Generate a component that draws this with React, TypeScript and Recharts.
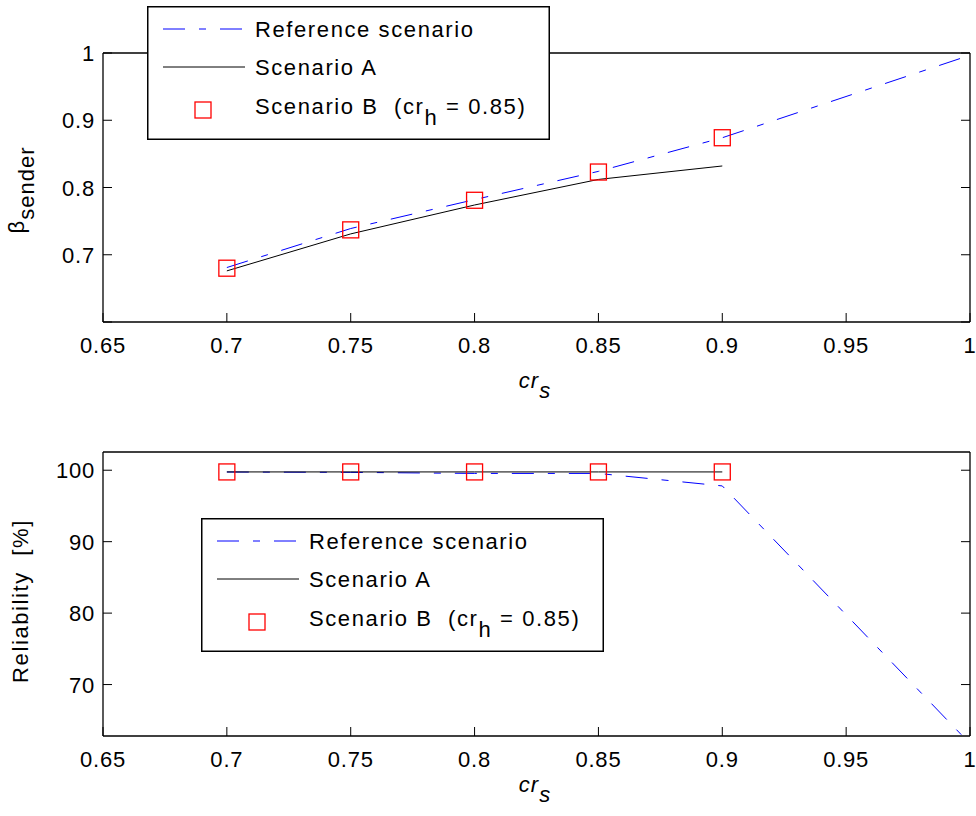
import React from 'react';
import { ComposedChart, Line, Scatter, XAxis, YAxis, Legend } from 'recharts';

const FONT = '"Liberation Sans", Arial, Helvetica, sans-serif';
const FS = 22;
const TICK_FS = 22;
const LS = 1.6;
const TICK_LS = 0.8;

// ---------- data ----------
const crS = [0.7, 0.75, 0.8, 0.85, 0.9];
const crSRef = [0.7, 0.75, 0.8, 0.85, 0.9, 0.997];

const betaRef = [0.681, 0.739, 0.782, 0.824, 0.874, 0.993];
const betaA = [0.676, 0.731, 0.774, 0.812, 0.832];
const betaB = [0.68, 0.737, 0.781, 0.823, 0.874];

const relRef = [99.75, 99.7, 99.55, 99.55, 97.8, 62.8];
const relA = [99.76, 99.76, 99.76, 99.76, 99.76];
const relB = [99.76, 99.76, 99.76, 99.76, 99.76];

const xTicks = [0.65, 0.7, 0.75, 0.8, 0.85, 0.9, 0.95, 1];
const xTickLabels = ['0.65', '0.7', '0.75', '0.8', '0.85', '0.9', '0.95', '1'];
const betaTicks = [0.6, 0.7, 0.8, 0.9, 1];
const betaTickLabels = ['', '0.7', '0.8', '0.9', '1'];
const relTicks = [70, 80, 90, 100];
const relTickLabels = ['70', '80', '90', '100'];

const legendLabels = ['Reference scenario', 'Scenario A', 'Scenario B  (cr', 'h', ' = 0.85)'];

const pts = (xs: number[], ys: number[]) => xs.map((x, i) => ({ x, y: ys[i] }));

const REF_COLOR = '#0000ff';
const A_COLOR = '#000000';
const B_COLOR = '#ff0000';
const DASH = '22 14 7 14';
const TICK_LEN = 9;
const AXIS_W = 1.3;

const labelOf = (vals: number[], labs: string[], v: number) => {
  const i = vals.findIndex((t) => Math.abs(t - v) < 1e-9);
  return i >= 0 ? labs[i] : String(v);
};

const makeBottomTick = (vals: number[], labs: string[]) => (props: any) => {
  const { x, y, payload } = props;
  return (
    <g>
      <line x1={x} x2={x} y1={y} y2={y - TICK_LEN} stroke="#000" strokeWidth={1} />
      <text
        x={x}
        y={y + 31}
        textAnchor="middle"
        fontFamily={FONT}
        fontSize={TICK_FS}
        letterSpacing={TICK_LS}
        fill="#000"
      >
        {labelOf(vals, labs, payload.value)}
      </text>
    </g>
  );
};

const TopTick = (props: any) => {
  const { x, y } = props;
  return <line x1={x} x2={x} y1={y} y2={y + TICK_LEN} stroke="#000" strokeWidth={1} />;
};

const makeLeftTick = (vals: number[], labs: string[]) => (props: any) => {
  const { x, y, payload } = props;
  return (
    <g>
      <line x1={x} x2={x + TICK_LEN} y1={y} y2={y} stroke="#000" strokeWidth={1} />
      <text
        x={x - 8}
        y={y + 8}
        textAnchor="end"
        fontFamily={FONT}
        fontSize={TICK_FS}
        letterSpacing={TICK_LS}
        fill="#000"
      >
        {labelOf(vals, labs, payload.value)}
      </text>
    </g>
  );
};

const RightTick = (props: any) => {
  const { x, y } = props;
  return <line x1={x} x2={x - TICK_LEN} y1={y} y2={y} stroke="#000" strokeWidth={1} />;
};

const SquareShape = (props: any) => {
  const { cx, cy } = props;
  return <rect x={cx - 8} y={cy - 8} width={16} height={16} fill="none" stroke={B_COLOR} strokeWidth={1.3} />;
};

const LegendBox = () => (
  <svg width={403} height={134} style={{ display: 'block' }}>
    <rect x={0.75} y={0.75} width={401.5} height={132.5} fill="#fff" stroke="#000" strokeWidth={1.5} />
    <line x1={16} x2={98} y1={23} y2={23} stroke={REF_COLOR} strokeWidth={1} strokeDasharray={DASH} />
    <text x={108} y={31} fontFamily={FONT} fontSize={FS} letterSpacing={LS} fill="#000">
      {legendLabels[0]}
    </text>
    <line x1={16} x2={98} y1={61} y2={61} stroke={A_COLOR} strokeWidth={1} />
    <text x={108} y={69} fontFamily={FONT} fontSize={FS} letterSpacing={LS} fill="#000">
      {legendLabels[1]}
    </text>
    <rect x={48} y={96} width={16} height={16} fill="none" stroke={B_COLOR} strokeWidth={1.3} />
    <text
      x={108}
      y={108}
      fontFamily={FONT}
      fontSize={FS}
      letterSpacing={LS}
      fill="#000"
      style={{ whiteSpace: 'pre' }}
    >
      {legendLabels[2]}
      <tspan dy={11}>{legendLabels[3]}</tspan>
      <tspan dy={-11}>{legendLabels[4]}</tspan>
    </text>
  </svg>
);

const XLabel = (y: number) => () => (
  <text
    x={535}
    y={y}
    textAnchor="middle"
    fontFamily={FONT}
    fontSize={FS}
    letterSpacing={1}
    fontStyle="italic"
    fill="#000"
  >
    cr<tspan dy={10}>s</tspan>
  </text>
);

const axisLine = { stroke: '#000', strokeWidth: AXIS_W };

export default function App() {
  const refTop = pts(crSRef, betaRef);
  const aTop = pts(crS, betaA);
  const bTop = pts(crS, betaB);
  const refBot = pts(crSRef, relRef);
  const aBot = pts(crS, relA);
  const bBot = pts(crS, relB);

  return (
    <div style={{ position: 'absolute', left: 0, top: 0, width: 976, height: 816, background: '#fff' }}>
      {/* top chart */}
      <div style={{ position: 'absolute', left: 0, top: 0 }}>
        <ComposedChart width={976} height={410} margin={{ left: 43, right: 5, top: 52, bottom: 28 }}>
          <XAxis
            dataKey="x"
            type="number"
            domain={[0.65, 1]}
            ticks={xTicks}
            allowDataOverflow
            height={60}
            tickSize={0}
            tickMargin={0}
            tickLine={false}
            axisLine={axisLine}
            tick={makeBottomTick(xTicks, xTickLabels)}
            label={{ content: XLabel(388) }}
          />
          <XAxis
            xAxisId="top"
            orientation="top"
            type="number"
            domain={[0.65, 1]}
            ticks={xTicks}
            allowDataOverflow
            height={1}
            tickSize={0}
            tickMargin={0}
            tickLine={false}
            axisLine={axisLine}
            tick={TopTick}
          />
          <YAxis
            dataKey="y"
            type="number"
            domain={[0.6, 1]}
            ticks={betaTicks}
            allowDataOverflow
            width={60}
            tickSize={0}
            tickMargin={0}
            tickLine={false}
            axisLine={axisLine}
            tick={makeLeftTick(betaTicks, betaTickLabels)}
            label={{
              content: () => (
                <text
                  x={24}
                  y={190}
                  transform="rotate(-90 24 190)"
                  textAnchor="middle"
                  fontFamily={FONT}
                  fontSize={FS}
                  letterSpacing={1}
                  fill="#000"
                >
                  β<tspan dy={10}>sender</tspan>
                </text>
              ),
            }}
          />
          <YAxis
            yAxisId="right"
            orientation="right"
            type="number"
            domain={[0.6, 1]}
            ticks={betaTicks}
            allowDataOverflow
            width={1}
            tickSize={0}
            tickMargin={0}
            tickLine={false}
            axisLine={axisLine}
            tick={RightTick}
          />
          <Line
            data={refTop}
            dataKey="y"
            stroke={REF_COLOR}
            strokeWidth={1}
            strokeDasharray={DASH}
            dot={false}
            isAnimationActive={false}
          />
          <Line data={aTop} dataKey="y" stroke={A_COLOR} strokeWidth={1} dot={false} isAnimationActive={false} />
          <Scatter data={bTop} dataKey="y" shape={SquareShape} isAnimationActive={false} />
          <Legend
            layout="horizontal"
            verticalAlign="middle"
            align="center"
            content={() => <LegendBox />}
            wrapperStyle={{ left: 147, top: 6, width: 403, height: 134 }}
          />
        </ComposedChart>
      </div>

      {/* bottom chart */}
      <div style={{ position: 'absolute', left: 0, top: 410 }}>
        <ComposedChart width={976} height={406} margin={{ left: 43, right: 5, top: 41, bottom: 20 }}>
          <XAxis
            dataKey="x"
            type="number"
            domain={[0.65, 1]}
            ticks={xTicks}
            allowDataOverflow
            height={60}
            tickSize={0}
            tickMargin={0}
            tickLine={false}
            axisLine={axisLine}
            tick={makeBottomTick(xTicks, xTickLabels)}
            label={{ content: XLabel(382) }}
          />
          <XAxis
            xAxisId="top"
            orientation="top"
            type="number"
            domain={[0.65, 1]}
            ticks={xTicks}
            allowDataOverflow
            height={1}
            tickSize={0}
            tickMargin={0}
            tickLine={false}
            axisLine={axisLine}
            tick={TopTick}
          />
          <YAxis
            dataKey="y"
            type="number"
            domain={[62.8, 102.55]}
            ticks={relTicks}
            allowDataOverflow
            width={60}
            tickSize={0}
            tickMargin={0}
            tickLine={false}
            axisLine={axisLine}
            tick={makeLeftTick(relTicks, relTickLabels)}
            label={{
              content: () => (
                <text
                  x={28}
                  y={191}
                  transform="rotate(-90 28 191)"
                  textAnchor="middle"
                  fontFamily={FONT}
                  fontSize={FS}
                  letterSpacing={LS}
                  fill="#000"
                  style={{ whiteSpace: 'pre' }}
                >
                  {'Reliability  [%]'}
                </text>
              ),
            }}
          />
          <YAxis
            yAxisId="right"
            orientation="right"
            type="number"
            domain={[62.8, 102.55]}
            ticks={relTicks}
            allowDataOverflow
            width={1}
            tickSize={0}
            tickMargin={0}
            tickLine={false}
            axisLine={axisLine}
            tick={RightTick}
          />
          <Line
            data={refBot}
            dataKey="y"
            stroke={REF_COLOR}
            strokeWidth={1}
            strokeDasharray={DASH}
            dot={false}
            isAnimationActive={false}
          />
          <Line data={aBot} dataKey="y" stroke={A_COLOR} strokeWidth={1} dot={false} isAnimationActive={false} />
          <Scatter data={bBot} dataKey="y" shape={SquareShape} isAnimationActive={false} />
          <Legend
            layout="horizontal"
            verticalAlign="middle"
            align="center"
            content={() => <LegendBox />}
            wrapperStyle={{ left: 201, top: 108, width: 403, height: 134 }}
          />
        </ComposedChart>
      </div>
    </div>
  );
}
